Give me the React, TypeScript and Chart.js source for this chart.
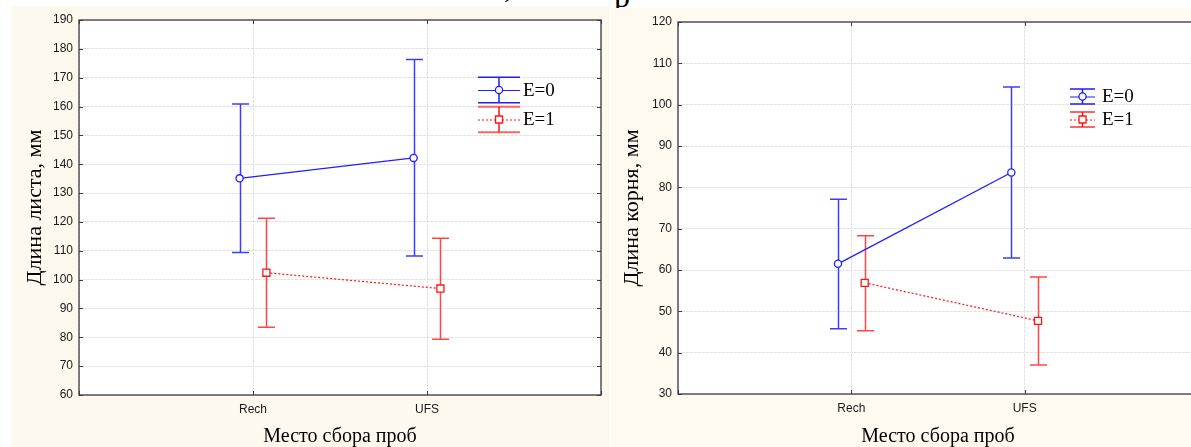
import React, { useEffect, useRef } from 'react';
import { Chart, registerables } from 'chart.js';

Chart.register(...registerables);

// ---------- data ----------
const categories = ['Rech', 'UFS'];
const seriesLabels = ['E=0', 'E=1'];

// Left panel: leaf length
const leafMeanE0 = [135.1, 142.2];
const leafLowE0 = [109.4, 108.2];
const leafHighE0 = [160.9, 176.3];
const leafMeanE1 = [102.4, 96.9];
const leafLowE1 = [83.5, 79.3];
const leafHighE1 = [121.3, 114.3];
const leafRange = [60, 190];

// Right panel: root length
const rootMeanE0 = [61.5, 83.6];
const rootLowE0 = [45.8, 62.9];
const rootHighE0 = [77.1, 104.3];
const rootMeanE1 = [56.9, 47.7];
const rootLowE1 = [45.3, 37.0];
const rootHighE1 = [68.3, 58.3];
const rootRange = [30, 120];

const xTitle = 'Место сбора проб';
const leafTitle = 'Длина листа, мм';
const rootTitle = 'Длина корня, мм';

// ---------- styles ----------
const BLUE = 'rgb(30,30,255)';
const BLUE_BAR = 'rgb(60,60,255)';
const RED = 'rgb(255,20,20)';
const RED_BAR = 'rgb(255,70,70)';
const SANS = "'Liberation Sans', Arial, sans-serif";
const SERIF = "'Liberation Serif', 'Times New Roman', serif";
const OFFSET = 0.077;

type PanelCfg = {
  width: number;
  height: number;
  yAxisWidth: number;
  xAxisHeight: number;
  padTop: number;
  padRight: number;
  yTitlePad: number;
  range: number[];
  yTitle: string;
  means: number[][];
  lows: number[][];
  highs: number[][];
  legend: { x0: number; x1: number; rows: number[]; cap: number; textX: number };
  bg: string;
};

function makePlugins(p: PanelCfg) {
  const plotBg = {
    id: 'plotBg',
    beforeDraw(chart: any) {
      const { ctx, chartArea: a } = chart;
      ctx.save();
      ctx.fillStyle = '#ffffff';
      ctx.fillRect(a.left, a.top, a.right - a.left, a.bottom - a.top);
      ctx.restore();
    },
  };
  const errorBars = {
    id: 'errorBarsCustom',
    beforeDatasetsDraw(chart: any) {
      const { ctx } = chart;
      const xs = chart.scales.x;
      const ys = chart.scales.y;
      const cap = 8.5;
      chart.data.datasets.forEach((ds: any, di: number) => {
        ctx.save();
        ctx.strokeStyle = di === 0 ? BLUE_BAR : RED_BAR;
        ctx.lineWidth = 1.5;
        ds.data.forEach((pt: any, i: number) => {
          const px = Math.round(xs.getPixelForValue(pt.x)) + 0.5;
          const yl = ys.getPixelForValue(p.lows[di][i]);
          const yh = ys.getPixelForValue(p.highs[di][i]);
          ctx.beginPath();
          ctx.moveTo(px, yl);
          ctx.lineTo(px, yh);
          ctx.moveTo(px - cap, yl);
          ctx.lineTo(px + cap, yl);
          ctx.moveTo(px - cap, yh);
          ctx.lineTo(px + cap, yh);
          ctx.stroke();
        });
        ctx.restore();
      });
    },
  };
  const frame = {
    id: 'frame',
    afterDraw(chart: any) {
      const { ctx, chartArea: a } = chart;
      const ys = chart.scales.y;
      const xs = chart.scales.x;
      ctx.save();
      ctx.strokeStyle = '#3c3c3c';
      ctx.lineWidth = 1.3;
      ctx.strokeRect(a.left, a.top, a.right - a.left, a.bottom - a.top);
      ctx.lineWidth = 1;
      ctx.beginPath();
      ys.ticks.forEach((t: any) => {
        const y = Math.round(ys.getPixelForValue(t.value)) + 0.5;
        ctx.moveTo(a.left, y);
        ctx.lineTo(a.left + 4, y);
        ctx.moveTo(a.right, y);
        ctx.lineTo(a.right - 4, y);
      });
      xs.ticks.forEach((t: any) => {
        const x = Math.round(xs.getPixelForValue(t.value)) + 0.5;
        ctx.moveTo(x, a.bottom);
        ctx.lineTo(x, a.bottom - 4);
        ctx.moveTo(x, a.top);
        ctx.lineTo(x, a.top + 4);
      });
      ctx.stroke();
      ctx.restore();
    },
  };
  const legend = {
    id: 'legendCustom',
    afterDraw(chart: any) {
      const { ctx } = chart;
      const L = p.legend;
      const cx = (L.x0 + L.x1) / 2;
      seriesLabels.forEach((label, i) => {
        const cy = L.rows[i];
        ctx.save();
        const capColor = i === 0 ? BLUE : 'rgb(255,100,100)';
        ctx.strokeStyle = capColor;
        ctx.lineWidth = i === 0 ? 1.5 : 2;
        ctx.beginPath();
        ctx.moveTo(L.x0, cy - L.cap);
        ctx.lineTo(L.x1, cy - L.cap);
        ctx.moveTo(L.x0, cy + L.cap);
        ctx.lineTo(L.x1, cy + L.cap);
        ctx.stroke();
        ctx.strokeStyle = i === 0 ? BLUE : RED;
        ctx.lineWidth = 1.5;
        ctx.beginPath();
        ctx.moveTo(cx, cy - L.cap);
        ctx.lineTo(cx, cy + L.cap);
        ctx.stroke();
        ctx.lineWidth = 1;
        if (i === 1) ctx.setLineDash([2, 2]);
        ctx.beginPath();
        ctx.moveTo(L.x0, cy + 0.5);
        ctx.lineTo(L.x1, cy + 0.5);
        ctx.stroke();
        ctx.setLineDash([]);
        ctx.fillStyle = '#ffffff';
        ctx.lineWidth = 1.3;
        ctx.beginPath();
        if (i === 0) {
          ctx.arc(cx, cy, 3.6, 0, Math.PI * 2);
        } else {
          ctx.rect(cx - 3.5, cy - 3.5, 7, 7);
        }
        ctx.fill();
        ctx.stroke();
        ctx.fillStyle = '#000000';
        ctx.font = `19px ${SERIF}`;
        ctx.textBaseline = 'middle';
        ctx.textAlign = 'left';
        ctx.fillText(label, L.textX, cy + 1);
        ctx.restore();
      });
    },
  };
  return [plotBg, errorBars, frame, legend];
}

function makeConfig(p: PanelCfg): any {
  const mk = (di: number) =>
    categories.map((_, i) => ({ x: i + 1 + (di === 0 ? -OFFSET : OFFSET), y: p.means[di][i] }));
  return {
    type: 'line',
    data: {
      datasets: [
        {
          label: seriesLabels[0],
          data: mk(0),
          borderColor: BLUE,
          borderWidth: 1.3,
          pointStyle: 'circle',
          pointRadius: 3.6,
          pointBackgroundColor: '#ffffff',
          pointBorderColor: BLUE,
          pointBorderWidth: 1.3,
          showLine: true,
        },
        {
          label: seriesLabels[1],
          data: mk(1),
          borderColor: RED,
          borderWidth: 1.2,
          borderDash: [2, 2],
          pointStyle: 'rect',
          pointRadius: 5,
          pointBackgroundColor: '#ffffff',
          pointBorderColor: RED,
          pointBorderWidth: 1.3,
          showLine: true,
        },
      ],
    },
    options: {
      animation: false,
      responsive: false,
      maintainAspectRatio: false,
      layout: { padding: { top: p.padTop, right: p.padRight, left: 0, bottom: 0 } },
      plugins: { legend: { display: false }, tooltip: { enabled: false } },
      scales: {
        x: {
          type: 'linear',
          min: 0,
          max: 3,
          afterFit: (s: any) => {
            s.height = p.xAxisHeight;
          },
          afterBuildTicks: (s: any) => {
            s.ticks = [0, 1, 2, 3].map((v) => ({ value: v }));
          },
          ticks: {
            callback: (v: number) => categories[v - 1] ?? '',
            font: { family: SANS, size: 12 },
            color: '#1a1a1a',
            padding: 7,
            maxRotation: 0,
            autoSkip: false,
          },
          grid: { drawTicks: false, color: '#e0e0e0', lineWidth: 1 },
          border: { display: false, dash: [3, 1] },
          title: {
            display: true,
            text: xTitle,
            font: { family: SERIF, size: 20, lineHeight: 1.0 },
            color: '#000000',
            padding: { top: 0, bottom: 0 },
          },
        },
        y: {
          type: 'linear',
          min: p.range[0],
          max: p.range[1],
          afterFit: (s: any) => {
            s.width = p.yAxisWidth;
          },
          ticks: {
            stepSize: 10,
            font: { family: SANS, size: 12 },
            color: '#1a1a1a',
            padding: 6,
          },
          grid: { drawTicks: false, color: '#e0e0e0', lineWidth: 1 },
          border: { display: false, dash: [3, 1] },
          title: {
            display: true,
            text: p.yTitle,
            font: { family: SERIF, size: 22, lineHeight: 1.0 },
            color: '#000000',
            padding: { top: p.yTitlePad, bottom: 0 },
          },
        },
      },
    },
    plugins: makePlugins(p),
  };
}

function Panel({ cfg, left, top }: { cfg: PanelCfg; left: number; top: number }) {
  const ref = useRef<HTMLCanvasElement | null>(null);
  useEffect(() => {
    if (!ref.current) return;
    const chart = new Chart(ref.current, makeConfig(cfg));
    return () => chart.destroy();
  }, []);
  return (
    <canvas
      ref={ref}
      width={cfg.width}
      height={cfg.height}
      style={{
        position: 'absolute',
        left,
        top,
        width: cfg.width,
        height: cfg.height,
        background: cfg.bg,
      }}
    />
  );
}

const leftCfg: PanelCfg = {
  width: 599,
  height: 441,
  yAxisWidth: 68,
  xAxisHeight: 52,
  padTop: 14,
  padRight: 9,
  yTitlePad: 13,
  range: leafRange,
  yTitle: leafTitle,
  means: [leafMeanE0, leafMeanE1],
  lows: [leafLowE0, leafLowE1],
  highs: [leafHighE0, leafHighE1],
  legend: { x0: 467, x1: 509, rows: [84, 113.5], cap: 12.8, textX: 512 },
  bg: '#fef9ef',
};

const rightCfg: PanelCfg = {
  width: 620,
  height: 439,
  yAxisWidth: 67,
  xAxisHeight: 53,
  padTop: 14,
  padRight: 33,
  yTitlePad: 10,
  range: rootRange,
  yTitle: rootTitle,
  means: [rootMeanE0, rootMeanE1],
  lows: [rootLowE0, rootLowE1],
  highs: [rootHighE0, rootHighE1],
  legend: { x0: 459, x1: 484, rows: [88.5, 111.5], cap: 7.5, textX: 491 },
  bg: '#fffaf0',
};

export default function App() {
  return (
    <div
      style={{
        position: 'fixed',
        left: 0,
        top: 0,
        width: 1191,
        height: 447,
        overflow: 'hidden',
        background: '#ffffff',
      }}
    >
      <span
        style={{
          position: 'absolute',
          left: 504,
          top: -30,
          fontFamily: SERIF,
          fontSize: 32,
          lineHeight: '32px',
          color: '#000',
        }}
      >
        ,
      </span>
      <span
        style={{
          position: 'absolute',
          left: 614,
          top: -20,
          fontFamily: SERIF,
          fontSize: 32,
          lineHeight: '32px',
          color: '#000',
        }}
      >
        р
      </span>
      <Panel cfg={leftCfg} left={11} top={6} />
      <Panel cfg={rightCfg} left={611} top={8} />
    </div>
  );
}
